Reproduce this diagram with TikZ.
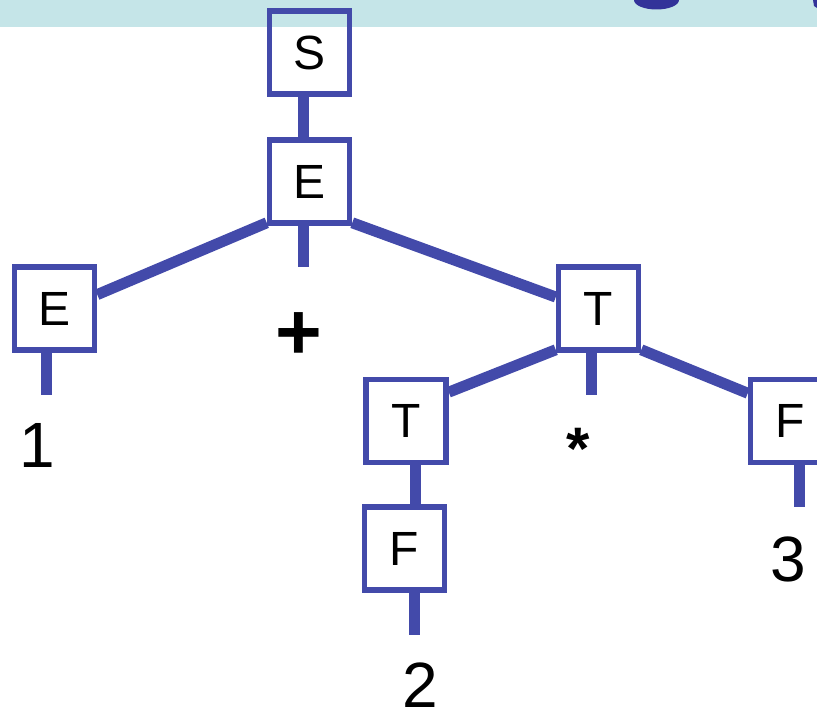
\documentclass[tikz,border=0pt]{standalone}
\usepackage{fontspec}
\setmainfont{Liberation Sans}
\definecolor{treeblue}{RGB}{67,74,170}
\definecolor{bandcyan}{RGB}{197,229,232}
\definecolor{titlenavy}{RGB}{51,51,153}

\begin{document}
\begin{tikzpicture}[x=1pt, y=-1pt,
  sym/.style={draw=treeblue, line width=5.5pt, minimum width=80pt,
    minimum height=83pt, inner sep=0pt, font=\fontsize{48}{48}\selectfont},
  branch/.style={treeblue, line width=11pt},
  leaf/.style={inner sep=0pt, anchor=north, font=\fontsize{64}{64}\selectfont}]

\useasboundingbox (0,0) rectangle (817,709);

%% title band at the top
\fill[bandcyan] (0,0) rectangle (817,27);
\fill[titlenavy] (656.5,0) ellipse [x radius=22.5pt, y radius=9.5pt];
\fill[titlenavy] (813,0) -- (817,0) -- (817,8) -- (814,6) -- cycle;

%% non-terminals
\node[sym] (S)  at (309.5,52.5)  {S};
\node[sym] (E)  at (309.5,181.5) {E};
\node[sym] (El) at (54.5,308.5)  {E};
\node[sym] (T)  at (598.5,308.5) {T};
\node[sym] (Tl) at (406,421)     {T};
\node[sym] (F)  at (790.5,421)   {F};
\node[sym] (Fl) at (404.5,548.5) {F};

%% terminals
\node[leaf] (one)   at (37,423)    {1};
\node[leaf, font=\fontsize{80}{80}\selectfont\bfseries] (plus) at (298.5,312) {+};
\node[leaf, font=\fontsize{60}{60}\selectfont\bfseries] (times) at (578,428) {*};
\node[leaf] (two)   at (420,663)   {2};
\node[leaf] (three) at (788,537)   {3};

%% ends of the short stubs
\coordinate (sTop)   at (303,100);
\coordinate (plusT)  at (303,267);
\coordinate (oneT)   at (46.5,395);
\coordinate (timesT) at (591,395);
\coordinate (tfMid)  at (415,485);
\coordinate (twoT)   at (414.5,635);
\coordinate (threeT) at (799,507);

%% branches
\draw[branch] (S.south -| sTop) -- (E.north -| sTop);
\draw[branch] (E.-136) -- (El.18);
\draw[branch] (E.south -| plusT) -- (plusT);
\draw[branch] (E.-44) -- (T.165);
\draw[branch] (El.south -| oneT) -- (oneT);
\draw[branch] (T.-136) -- (Tl.34);
\draw[branch] (T.south -| timesT) -- (timesT);
\draw[branch] (T.-44) -- (F.147);
\draw[branch] (Tl.south -| tfMid) -- (Fl.north -| tfMid);
\draw[branch] (Fl.south -| twoT) -- (twoT);
\draw[branch] (F.south -| threeT) -- (threeT);

\end{tikzpicture}
\end{document}
